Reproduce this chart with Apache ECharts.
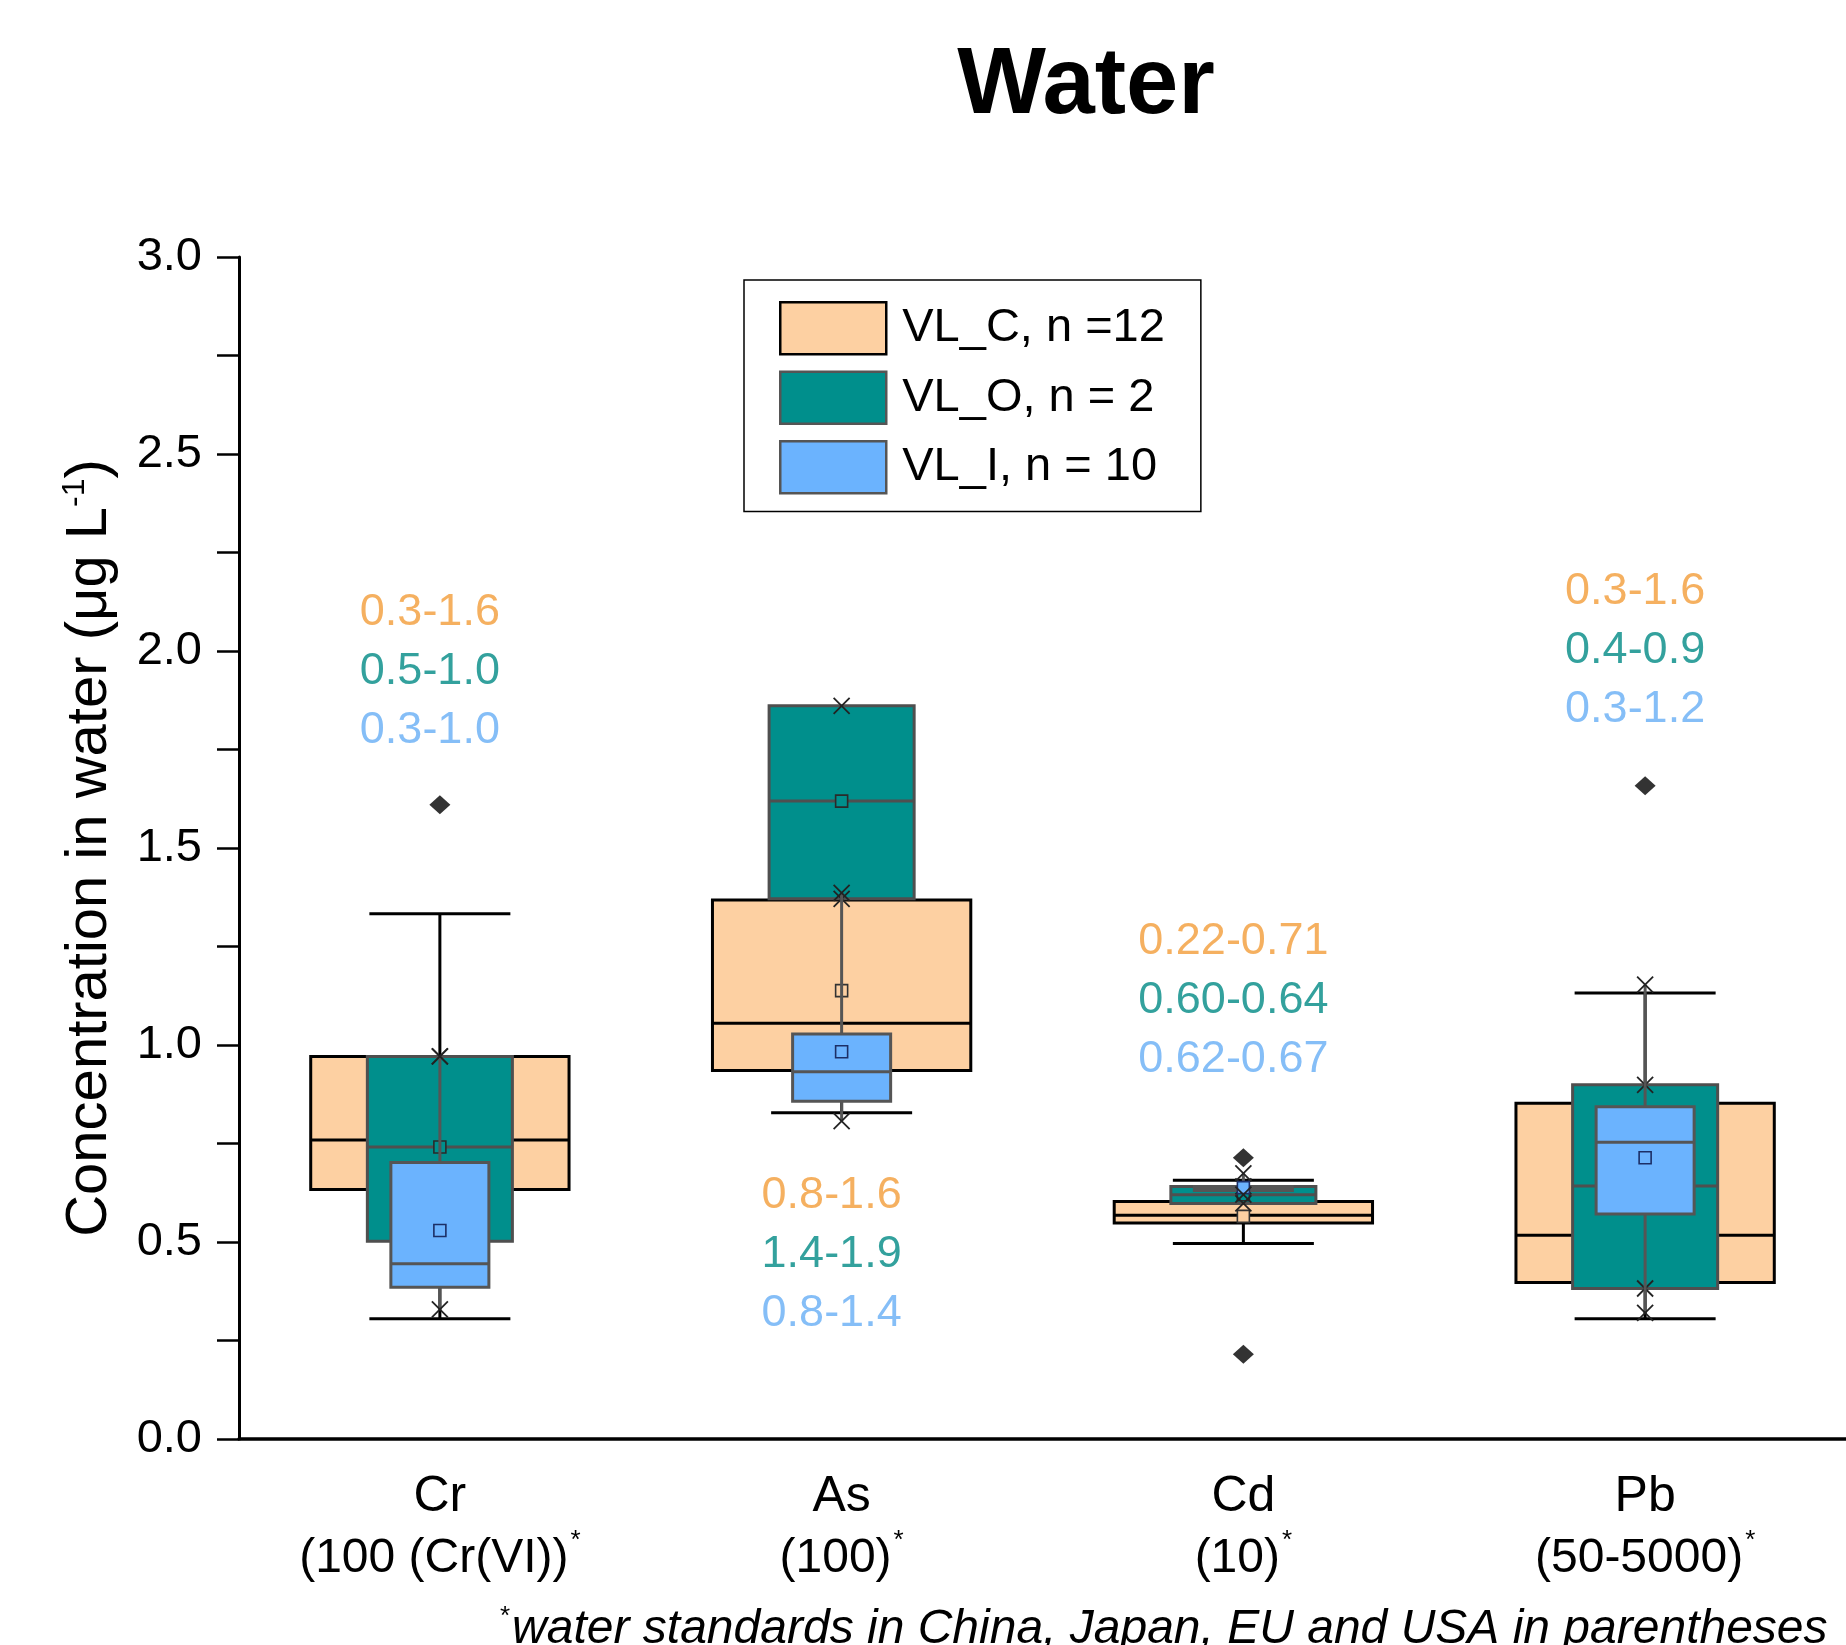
<!DOCTYPE html>
<html>
<head>
<meta charset="utf-8">
<title>Water</title>
<script src="https://cdn.jsdelivr.net/npm/echarts@6/dist/echarts.min.js"></script>
<style>
  html, body { margin: 0; padding: 0; background: #fff; }
  #chart { width: 1846px; height: 1645px; }
</style>
</head>
<body>
<div id="chart"></div>
<script>
// Elements and their drinking-water standards (µg/L), written inside parentheses
const categories = ['Cr', 'As', 'Cd', 'Pb'];
const standards = ['100 (Cr(VI)', '100', '10', '50-5000'];

// Box statistics per element: [whisker low, Q1, median, Q3, whisker high, mean]
const vlC = [
  [0.305, 0.633, 0.759, 0.971, 1.333, 0.800],
  [0.828, 0.935, 1.055, 1.368, 1.600, 1.138],
  [0.496, 0.548, 0.568, 0.603, 0.657, 0.565],
  [0.305, 0.397, 0.517, 0.852, 1.132, 0.660]
];
const vlO = [
  [0.502, 0.502, 0.741, 0.971, 0.971, 0.741],
  [1.371, 1.371, 1.619, 1.861, 1.861, 1.619],
  [0.598, 0.598, 0.620, 0.641, 0.641, 0.620],
  [0.382, 0.382, 0.642, 0.899, 0.899, 0.642]
];
const vlI = [
  [0.329, 0.385, 0.445, 0.702, 0.971, 0.529],
  [0.807, 0.857, 0.932, 1.028, 1.386, 0.983],
  [0.620, 0.631, 0.636, 0.641, 0.674, 0.638],
  [0.320, 0.571, 0.753, 0.843, 1.153, 0.714]
];

// Outliers of VL_C: [element index, value]
const vlCOutliers = [[0, 1.610], [2, 0.714], [2, 0.215], [3, 1.658]];

// Observed ranges written above / below each element
const rangeC = ['0.3-1.6', '0.8-1.6', '0.22-0.71', '0.3-1.6'];
const rangeO = ['0.5-1.0', '1.4-1.9', '0.60-0.64', '0.4-0.9'];
const rangeI = ['0.3-1.0', '0.8-1.4', '0.62-0.67', '0.3-1.2'];
// value on the y axis where the middle line of each range block sits
const rangeAnchor = [1.948, 0.469, 1.112, 2.002];

const legendNames = ['VL_C, n =12', 'VL_O, n = 2', 'VL_I, n = 10'];

const FONT = '"Liberation Sans", Arial, Helvetica, sans-serif';

const styles = {
  C: { fill: '#FDD0A2', stroke: '#000000', boxW: 0.643, capW: 0.351, whisker: '#000000', meanStroke: '#333333', marks: false },
  O: { fill: '#008F8C', stroke: '#4F4F4F', boxW: 0.361, capW: 0, whisker: '#4F4F4F', meanStroke: '#2a2a2a', marks: true },
  I: { fill: '#6BB3FE', stroke: '#555555', boxW: 0.244, capW: 0, whisker: '#555555', meanStroke: '#1c2f66', marks: true }
};

function boxData(rows) {
  return rows.map((r, i) => [i].concat(r));
}

function makeRender(st) {
  return function (params, api) {
    const cat = api.value(0);
    const low = api.value(1), q1 = api.value(2), med = api.value(3),
          q3 = api.value(4), high = api.value(5), mean = api.value(6);
    const band = api.size([1, 0])[0];
    const cx = api.coord([cat, 0])[0];
    const Y = v => api.coord([cat, v])[1];
    const bw = band * st.boxW;
    const children = [];
    const lw = 3;

    // whiskers
    if (high > q3) children.push({ type: 'line', shape: { x1: cx, y1: Y(q3), x2: cx, y2: Y(high) }, style: { stroke: st.whisker, lineWidth: lw } });
    if (low < q1) children.push({ type: 'line', shape: { x1: cx, y1: Y(q1), x2: cx, y2: Y(low) }, style: { stroke: st.whisker, lineWidth: lw } });
    if (st.capW > 0) {
      const cw = band * st.capW / 2;
      children.push({ type: 'line', shape: { x1: cx - cw, y1: Y(high), x2: cx + cw, y2: Y(high) }, style: { stroke: st.whisker, lineWidth: lw } });
      children.push({ type: 'line', shape: { x1: cx - cw, y1: Y(low), x2: cx + cw, y2: Y(low) }, style: { stroke: st.whisker, lineWidth: lw } });
    }
    // box
    children.push({ type: 'rect', shape: { x: cx - bw / 2, y: Y(q3), width: bw, height: Y(q1) - Y(q3) }, style: { fill: st.fill, stroke: st.stroke, lineWidth: lw } });
    // median
    children.push({ type: 'line', shape: { x1: cx - bw / 2, y1: Y(med), x2: cx + bw / 2, y2: Y(med) }, style: { stroke: st.stroke, lineWidth: lw } });
    // mean
    const ms = 12;
    children.push({ type: 'rect', shape: { x: cx - ms / 2, y: Y(mean) - ms / 2, width: ms, height: ms }, style: { fill: st.fill, stroke: st.meanStroke, lineWidth: 1.6 } });
    // min / max markers
    if (st.marks) {
      const s = 8;
      [low, high].forEach(v => {
        const y = Y(v);
        children.push({ type: 'line', shape: { x1: cx - s, y1: y - s, x2: cx + s, y2: y + s }, style: { stroke: '#222', lineWidth: 1.8 } });
        children.push({ type: 'line', shape: { x1: cx - s, y1: y + s, x2: cx + s, y2: y - s }, style: { stroke: '#222', lineWidth: 1.8 } });
      });
    }
    return { type: 'group', children: children };
  };
}

function boxSeries(name, rows, st, z) {
  return {
    name: name,
    type: 'custom',
    coordinateSystem: 'cartesian2d',
    renderItem: makeRender(st),
    encode: { x: 0, y: [1, 2, 3, 4, 5, 6] },
    itemStyle: { color: st.fill, borderColor: st.stroke, borderWidth: 2.5 },
    data: boxData(rows),
    z: z,
    clip: false,
    silent: true
  };
}

const chart = echarts.init(document.getElementById('chart'), null, { renderer: 'canvas' });

const option = {
  backgroundColor: '#ffffff',
  animation: false,
  textStyle: { fontFamily: FONT },
  grid: { left: 239, right: 0, top: 257, bottom: 206, containLabel: false },
  legend: {
    orient: 'vertical',
    left: 744,
    top: 280,
    itemWidth: 106,
    itemHeight: 52,
    itemGap: 15,
    padding: [21, 36, 17, 35],
    borderColor: '#000',
    borderWidth: 1.5,
    selectedMode: false,
    textStyle: { fontSize: 47, color: '#000', fontFamily: FONT, padding: [0, 0, 0, 11] },
    data: [
      { name: legendNames[0], icon: 'rect', itemStyle: { color: styles.C.fill, borderColor: '#000', borderWidth: 2.5 } },
      { name: legendNames[1], icon: 'rect', itemStyle: { color: styles.O.fill, borderColor: '#555', borderWidth: 2.5 } },
      { name: legendNames[2], icon: 'rect', itemStyle: { color: styles.I.fill, borderColor: '#555', borderWidth: 2.5 } }
    ]
  },
  xAxis: {
    type: 'category',
    data: categories,
    boundaryGap: true,
    axisLine: { lineStyle: { color: '#000', width: 3.5 } },
    axisTick: { alignWithLabel: true, length: 21, lineStyle: { color: '#000', width: 2.5 } },
    axisLabel: {
      interval: 0,
      margin: 28,
      color: '#000',
      formatter: function (v, i) {
        return '{n|' + v + '}\n{p|(' + standards[i] + ')}{s|*}';
      },
      rich: {
        n: { fontSize: 50, lineHeight: 61, fontFamily: FONT, color: '#000' },
        p: { fontSize: 48, lineHeight: 61, fontFamily: FONT, color: '#000' },
        s: { fontSize: 26, lineHeight: 61, verticalAlign: 'top', fontFamily: FONT, color: '#000', padding: [0, 0, 26, 2] }
      }
    },
    splitLine: { show: false }
  },
  yAxis: {
    type: 'value',
    min: 0,
    max: 3,
    interval: 0.5,
    name: 'Concentration in water (μg L{sup|-1})',
    nameLocation: 'middle',
    nameRotate: 90,
    nameGap: 118,
    nameTextStyle: {
      fontSize: 58,
      color: '#000',
      fontFamily: FONT,
      rich: {
        sup: { fontSize: 32, fontFamily: FONT, color: '#000', verticalAlign: 'top', padding: [0, 0, 30, 0] }
      }
    },
    axisLine: { show: true, lineStyle: { color: '#000', width: 3 } },
    axisTick: { show: true, length: 22, lineStyle: { color: '#000', width: 2.5 } },
    minorTick: { show: true, splitNumber: 2, length: 22, lineStyle: { color: '#000', width: 2.5 } },
    axisLabel: {
      margin: 37,
      fontSize: 47,
      color: '#000',
      fontFamily: FONT,
      formatter: v => v.toFixed(1)
    },
    splitLine: { show: false }
  },
  graphic: [
    {
      type: 'text',
      x: 1086,
      y: 87,
      style: { text: 'Water', fontSize: 94, fontWeight: 'bold', fontFamily: FONT, fill: '#000', align: 'center', verticalAlign: 'middle' }
    },
    {
      type: 'text',
      x: 500,
      y: 1630,
      style: {
        text: '{s|*}{t|water standards in China, Japan, EU and USA in parentheses}',
        verticalAlign: 'middle',
        rich: {
          s: { fontSize: 26, fontFamily: FONT, fill: '#000', verticalAlign: 'top', padding: [0, 2, 26, 0] },
          t: { fontSize: 48, fontStyle: 'italic', fontFamily: FONT, fill: '#000' }
        }
      }
    }
  ],
  series: [
    boxSeries(legendNames[0], vlC, styles.C, 2),
    boxSeries(legendNames[1], vlO, styles.O, 3),
    boxSeries(legendNames[2], vlI, styles.I, 4),
    {
      type: 'scatter',
      symbol: 'diamond',
      symbolSize: [21, 19],
      itemStyle: { color: '#000' },
      data: vlCOutliers,
      z: 6,
      silent: true
    },
    {
      type: 'scatter',
      symbolSize: 0,
      data: categories.map((c, i) => [i, rangeAnchor[i]]),
      z: 7,
      silent: true,
      label: {
        show: true,
        position: 'inside',
        offset: [-10, 0],
        align: 'center',
        verticalAlign: 'middle',
        formatter: function (p) {
          const i = p.dataIndex;
          return '{c|' + rangeC[i] + '}\n{o|' + rangeO[i] + '}\n{i|' + rangeI[i] + '}';
        },
        rich: {
          c: { fontSize: 45, lineHeight: 59, color: '#F39C38', fontFamily: FONT },
          o: { fontSize: 45, lineHeight: 59, color: '#008A84', fontFamily: FONT },
          i: { fontSize: 45, lineHeight: 59, color: '#66AEF5', fontFamily: FONT }
        }
      }
    }
  ]
};

chart.setOption(option);
</script>
</body>
</html>
